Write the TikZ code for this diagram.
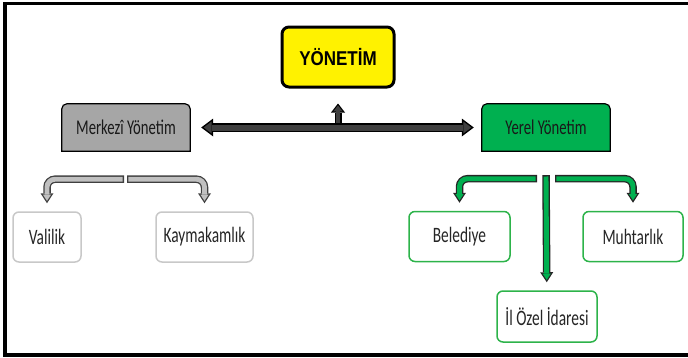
\documentclass[tikz,border=0pt]{standalone}
\usepackage{fontspec}
\setmainfont[FakeStretch=0.7]{Carlito}
\newfontfamily\titlefont[FakeStretch=0.85]{Liberation Sans}
\usetikzlibrary{arrows.meta,backgrounds}

\definecolor{boxgray}{HTML}{A6A6A6}
\definecolor{boxgreen}{HTML}{00B050}
\definecolor{linegreen}{HTML}{2DB34A}
\definecolor{linegray}{HTML}{C8C8C8}
\definecolor{bargray}{HTML}{3F3F3F}
\definecolor{branchgray}{HTML}{C0C0C0}

\tikzset{
  bigtip/.tip={Triangle[length=12pt,width=18pt,line width=0pt]},
  bigtipin/.tip={Triangle[length=8pt,width=12pt,line width=0pt]},
  titlebox/.style={draw=black, fill=yellow, line width=3pt, rounded corners=7pt,
    minimum width=112pt, minimum height=60pt,
    font=\titlefont\bfseries\fontsize{20}{24}\selectfont},
  mainbox/.style={minimum width=128pt, minimum height=47pt,
    font=\fontsize{21}{24}\selectfont, text=black!90},
  subbox/.style={draw=#1, fill=white, line width=1.5pt, rounded corners=6pt,
    minimum height=50pt, font=\fontsize{22}{25}\selectfont, text=black!85},
  brout/.style={draw=#1, line width=7.5pt, rounded corners=8pt,
    -{Triangle[length=10pt,width=13pt,line width=0pt]}, shorten >=8pt},
  brin/.style={draw=#1, line width=4.9pt, rounded corners=8pt,
    -{Triangle[length=6.3pt,width=8.2pt,line width=0pt]},
    shorten >=10.4pt, shorten <=1.3pt},
}

\begin{document}
\begin{tikzpicture}[x=1pt,y=-1pt]
\useasboundingbox (0,0) rectangle (688,357);
\draw[line width=3.5pt] (692,3.5) -- (5,3.5) -- (5,355) -- (692,355);

% kutular
\node[titlebox] (yonetim) at (338,57) {YÖNETİM};
\node[mainbox] (merkezi) at (126,127.5) {Merkezî Yönetim};
\node[mainbox] (yerel) at (546,127.5) {Yerel Yönetim};
\node[subbox=linegray, minimum width=68pt] (valilik) at (47,237) {Valilik};
\node[subbox=linegray, minimum width=97pt] (kaymakamlik) at (204.5,237) {Kaymakamlık};
\node[subbox=linegreen, minimum width=101pt] (belediye) at (459.5,236.5) {Belediye};
\node[subbox=linegreen, minimum width=100pt] (muhtarlik) at (633,236.5) {Muhtarlık};
\node[subbox=linegreen, minimum width=100pt, minimum height=51pt] (ilozel) at (547,316.5) {İl Özel İdaresi};

\begin{scope}[on background layer]
\draw[fill=boxgray, line width=1.2pt] (merkezi.south west) [rounded corners=5pt] -- (merkezi.north west)
  -- (merkezi.north east) [sharp corners] -- (merkezi.south east) -- cycle;
\draw[fill=boxgreen, line width=1.2pt] (yerel.south west) [rounded corners=5pt] -- (yerel.north west)
  -- (yerel.north east) [sharp corners] -- (yerel.south east) -- cycle;
\end{scope}

% oklar
\draw[line width=7pt, -{Triangle[length=9pt,width=14pt,line width=0pt]}, shorten >=15pt]
  (yonetim |- merkezi) -- (yonetim);
\draw[line width=4.6pt, draw=bargray, -{Triangle[length=5.8pt,width=9.1pt,line width=0pt]}, shorten >=17pt]
  (yonetim |- merkezi) -- (yonetim);
\draw[line width=9pt, bigtip-bigtip, shorten <=11pt, shorten >=8pt] (merkezi) -- (yerel);
\draw[line width=6pt, draw=bargray, bigtipin-bigtipin, shorten <=13.5pt, shorten >=10.5pt] (merkezi) -- (yerel);

\draw[brout=black!75] ([shift={(-2,28)}]merkezi.south) -| (valilik);
\draw[brin=branchgray] ([shift={(-2,28)}]merkezi.south) -| (valilik);
\draw[brout=black!75] ([shift={(1,28)}]merkezi.south) -| (kaymakamlik);
\draw[brin=branchgray] ([shift={(1,28)}]merkezi.south) -| (kaymakamlik);

\draw[brout=black!85] ([shift={(-9,27.5)}]yerel.south) -| (belediye);
\draw[brin=boxgreen] ([shift={(-9,27.5)}]yerel.south) -| (belediye);
\draw[brout=black!85] ([shift={(9,27.5)}]yerel.south) -| (muhtarlik);
\draw[brin=boxgreen] ([shift={(9,27.5)}]yerel.south) -| (muhtarlik);
\draw[brout=black!85] ([shift={(0,24)}]yerel.south) -- (ilozel);
\draw[brin=boxgreen] ([shift={(0,24)}]yerel.south) -- (ilozel);
\end{tikzpicture}
\end{document}
